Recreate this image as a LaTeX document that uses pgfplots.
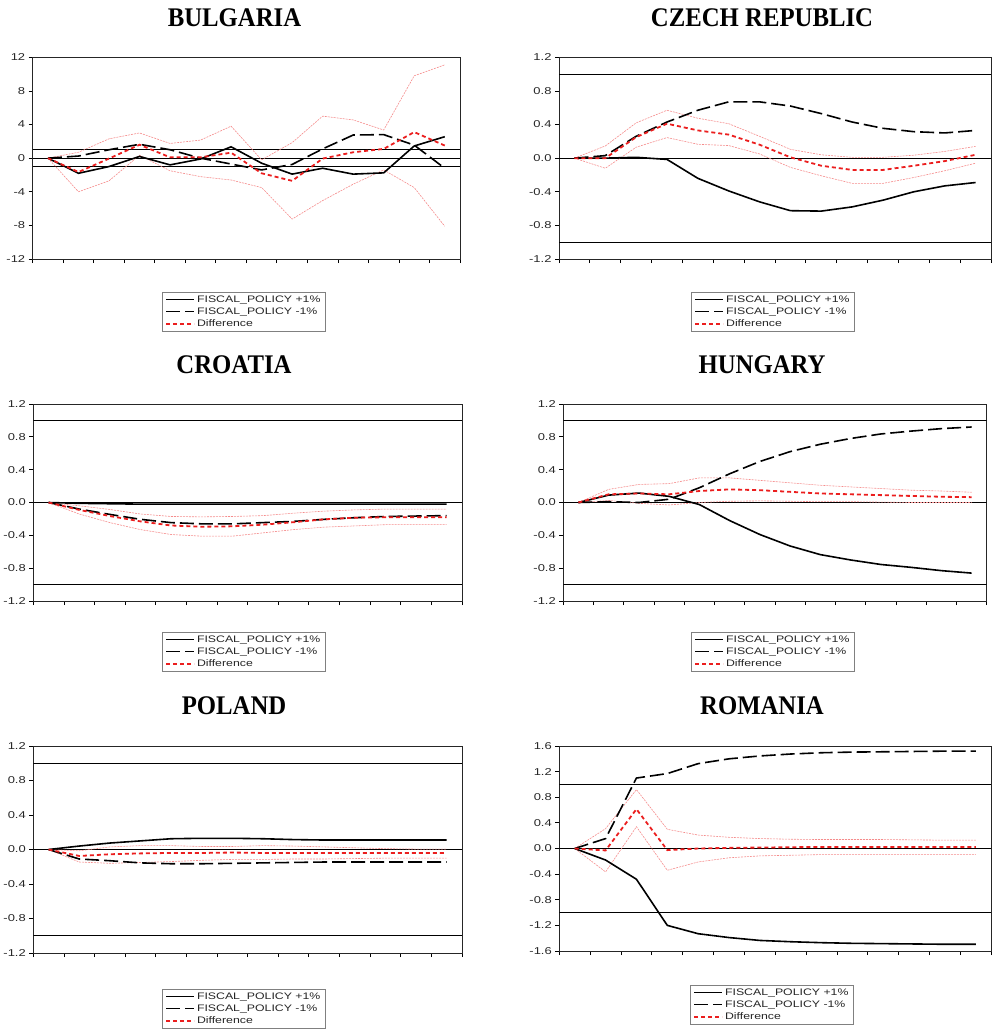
\documentclass[border=0pt]{standalone}
\usepackage{fontspec}
\usepackage{pgfplots}
\usepackage{pgfplotstable}
\pgfplotsset{compat=1.18}
\newfontfamily\lab[FakeStretch=1.3]{Liberation Sans}
\newfontfamily\ttl[FakeStretch=0.92]{Liberation Serif}
\definecolor{diffred}{RGB}{235,30,30}
\definecolor{bandred}{RGB}{245,140,140}

\pgfplotstableread{
x p m d u l
1 0 0 0 0 0
2 -1.8 0.25 -1.65 0.7 -4.0
3 -1.0 1.0 -0.05 2.3 -2.7
4 0.2 1.65 1.6 3.0 0.35
5 -0.8 1.0 0.1 1.75 -1.5
6 -0.1 0 0.1 2.15 -2.2
7 1.35 -0.7 0.65 3.8 -2.6
8 -0.6 -1.4 -1.8 -0.2 -3.5
9 -1.9 -0.75 -2.7 1.85 -7.25
10 -1.2 1.1 -0.05 5.0 -5.05
11 -1.9 2.75 0.7 4.55 -3.1
12 -1.75 2.8 1.1 3.35 -1.4
13 1.45 1.55 3.1 9.8 -3.5
14 2.55 -1.2 1.5 11.1 -8.1
}\bulgaria

\pgfplotstableread{
x p m d u l
1 0 0 0 0 0
2 0 0.03 0 0.145 -0.12
3 0.01 0.26 0.25 0.42 0.13
4 -0.015 0.43 0.41 0.57 0.245
5 -0.24 0.57 0.33 0.475 0.165
6 -0.39 0.67 0.28 0.41 0.15
7 -0.52 0.67 0.16 0.26 0.05
8 -0.625 0.62 0.01 0.105 -0.11
9 -0.63 0.53 -0.09 0.04 -0.21
10 -0.58 0.43 -0.14 0.01 -0.30
11 -0.50 0.355 -0.14 0.01 -0.30
12 -0.40 0.315 -0.09 0.035 -0.23
13 -0.33 0.30 -0.035 0.08 -0.15
14 -0.29 0.33 0.04 0.14 -0.06
}\czech

\pgfplotstableread{
x p m d u l
1 0 0 0 0 0
2 -0.01 -0.08 -0.09 -0.04 -0.14
3 -0.015 -0.145 -0.165 -0.085 -0.245
4 -0.02 -0.205 -0.23 -0.14 -0.33
5 -0.02 -0.245 -0.28 -0.17 -0.39
6 -0.02 -0.26 -0.295 -0.175 -0.41
7 -0.02 -0.26 -0.29 -0.17 -0.41
8 -0.02 -0.245 -0.27 -0.16 -0.37
9 -0.02 -0.23 -0.24 -0.13 -0.33
10 -0.02 -0.205 -0.205 -0.105 -0.30
11 -0.02 -0.185 -0.185 -0.09 -0.285
12 -0.02 -0.17 -0.18 -0.08 -0.27
13 -0.02 -0.165 -0.18 -0.08 -0.27
14 -0.02 -0.16 -0.18 -0.08 -0.27
}\croatia

\pgfplotstableread{
x p m d u l
1 0 0 0 0 0
2 0.09 0.01 0.10 0.16 0.025
3 0.115 0.0 0.11 0.22 -0.01
4 0.075 0.04 0.10 0.23 -0.03
5 -0.025 0.18 0.14 0.30 0.0
6 -0.22 0.35 0.16 0.30 0.015
7 -0.39 0.50 0.15 0.27 0.02
8 -0.53 0.62 0.13 0.24 0.015
9 -0.635 0.71 0.11 0.21 0.01
10 -0.70 0.78 0.10 0.19 0.01
11 -0.755 0.835 0.09 0.17 0.005
12 -0.79 0.87 0.08 0.15 0.0
13 -0.83 0.90 0.07 0.14 0.0
14 -0.86 0.92 0.065 0.125 0.0
}\hungary

\pgfplotstableread{
x p m d u l
1 0 0 0 0 0
2 0.04 -0.11 -0.075 -0.015 -0.145
3 0.075 -0.13 -0.055 0.03 -0.16
4 0.10 -0.155 -0.045 0.045 -0.15
5 0.125 -0.165 -0.04 0.045 -0.14
6 0.13 -0.165 -0.04 0.035 -0.125
7 0.13 -0.16 -0.035 0.035 -0.115
8 0.125 -0.155 -0.04 0.045 -0.115
9 0.115 -0.15 -0.04 0.04 -0.11
10 0.11 -0.145 -0.04 0.03 -0.11
11 0.11 -0.145 -0.04 0.02 -0.105
12 0.11 -0.145 -0.04 0.01 -0.10
13 0.11 -0.145 -0.04 0.005 -0.10
14 0.11 -0.145 -0.04 0.005 -0.10
}\poland

\pgfplotstableread{
x p m d u l
1 0 0 0 0 0
2 -0.18 0.155 -0.03 0.31 -0.365
3 -0.48 1.10 0.615 0.92 0.34
4 -1.20 1.17 -0.025 0.30 -0.34
5 -1.33 1.325 0.0 0.21 -0.21
6 -1.39 1.40 0.01 0.175 -0.145
7 -1.435 1.445 0.015 0.155 -0.115
8 -1.455 1.475 0.02 0.145 -0.105
9 -1.47 1.495 0.025 0.14 -0.095
10 -1.48 1.505 0.025 0.14 -0.095
11 -1.485 1.51 0.025 0.14 -0.095
12 -1.49 1.515 0.025 0.135 -0.095
13 -1.495 1.52 0.025 0.13 -0.095
14 -1.495 1.52 0.025 0.13 -0.095
}\romania

\pgfplotsset{
  legend image code/.code={\draw[#1] (0bp,0bp) -- (28bp,0bp);},
  irf/.style={
    scale only axis, xmin=0.5, xmax=14.5,
    xtick={0.5,1.5,...,14.5}, xticklabels={},
    tick align=outside, tick pos=left, major tick length=4bp,
    axis line style={black!85, line width=0.8bp},
    every tick/.style={black, line width=0.8bp},
    yticklabel style={font=\lab\fontsize{10}{10}\selectfont, text=black!85},
    legend cell align=left,
    legend style={draw=black!50, line width=0.6bp, anchor=north west,
      font=\lab\fontsize{9.5}{11}\selectfont, text=black!85,
      inner xsep=3bp, inner ysep=1.2bp, row sep=0bp},
  },
  smallticks/.style={ymin=-1.2, ymax=1.2, ytick={-1.2,-0.8,-0.4,0,0.4,0.8,1.2},
    yticklabels={-1.2,-0.8,-0.4,0.0,0.4,0.8,1.2}},
  refl/.style={black, line width=0.8bp, forget plot},
  band/.style={bandred, line width=0.6bp, dash pattern=on 2bp off 1bp, forget plot},
  plus/.style={black, line width=1.6bp},
  minus/.style={black, line width=1.6bp, dash pattern=on 14bp off 5bp},
  diffl/.style={diffred, line width=1.8bp, dash pattern=on 4bp off 3bp},
}

\newcommand\panel[1]{%
  \addplot[refl] coordinates {(0.5,1) (14.5,1)};
  \addplot[refl] coordinates {(0.5,0) (14.5,0)};
  \addplot[refl] coordinates {(0.5,-1) (14.5,-1)};
  \addplot[band] table[x=x,y=u]{#1};
  \addplot[band] table[x=x,y=l]{#1};
  \addplot[plus] table[x=x,y=p]{#1};
  \addlegendentry{FISCAL\_POLICY +1\%}
  \addplot[minus] table[x=x,y=m]{#1};
  \addlegendentry{FISCAL\_POLICY -1\%}
  \addplot[diffl] table[x=x,y=d]{#1};
  \addlegendentry{Difference}
}

\newcommand\ttitle[1]{\ttl\bfseries\fontsize{27}{27}\selectfont #1}

\begin{document}
\begin{tikzpicture}
\path[use as bounding box] (0,0) rectangle (992bp,-1029bp);

\node at (234.5bp,-17.5bp) {\ttitle{BULGARIA}};
\node at (762bp,-17.5bp) {\ttitle{CZECH REPUBLIC}};
\node at (234bp,-365bp) {\ttitle{CROATIA}};
\node at (762bp,-365bp) {\ttitle{HUNGARY}};
\node at (234bp,-706bp) {\ttitle{POLAND}};
\node at (762bp,-706bp) {\ttitle{ROMANIA}};

\begin{axis}[irf, at={(32.7bp,-259bp)}, anchor=south west, width=427.3bp, height=201.7bp,
  ymin=-12, ymax=12, ytick={-12,-8,-4,0,4,8,12}, yticklabels={-12,-8,-4,0,4,8,12},
  legend style={at={(0.3026,-0.1636)}}]
\panel{\bulgaria}
\end{axis}

\begin{axis}[irf, smallticks, at={(559bp,-259bp)}, anchor=south west, width=432bp, height=201.7bp,
  legend style={at={(0.3056,-0.1636)}}]
\panel{\czech}
\end{axis}

\begin{axis}[irf, smallticks, at={(33.3bp,-601bp)}, anchor=south west, width=428.7bp, height=197bp,
  legend style={at={(0.300,-0.157)}}]
\panel{\croatia}
\end{axis}

\begin{axis}[irf, smallticks, at={(563.3bp,-601bp)}, anchor=south west, width=423.4bp, height=197bp,
  legend style={at={(0.3016,-0.157)}}]
\panel{\hungary}
\end{axis}

\begin{axis}[irf, smallticks, at={(33.3bp,-953bp)}, anchor=south west, width=428.7bp, height=207bp,
  legend style={at={(0.300,-0.174)}}]
\panel{\poland}
\end{axis}

\begin{axis}[irf, at={(559.3bp,-951bp)}, anchor=south west, width=432bp, height=205bp,
  ymin=-1.6, ymax=1.6, ytick={-1.6,-1.2,-0.8,-0.4,0,0.4,0.8,1.2,1.6},
  yticklabels={-1.6,-1.2,-0.8,-0.4,0.0,0.4,0.8,1.2,1.6},
  legend style={at={(0.3025,-0.166)}}]
\panel{\romania}
\end{axis}
\end{tikzpicture}
\end{document}
